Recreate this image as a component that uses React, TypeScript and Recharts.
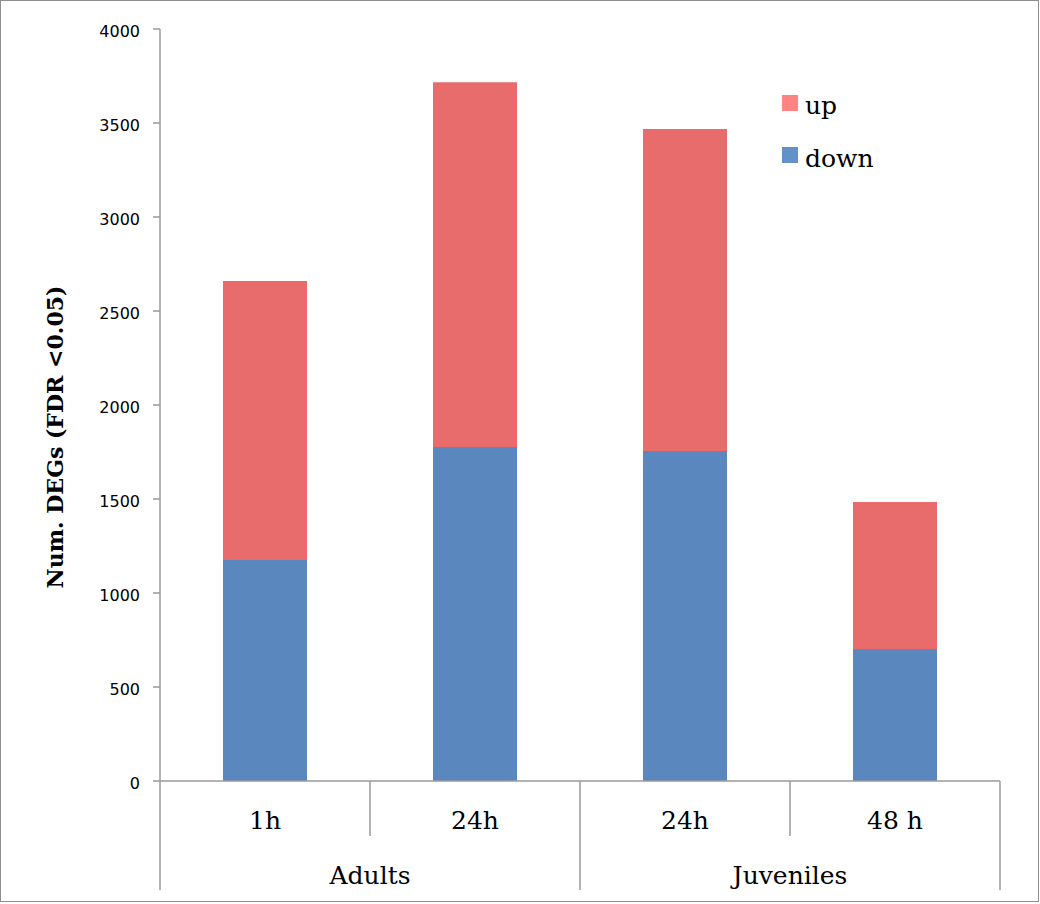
import React from 'react'
import { BarChart, Bar, XAxis, YAxis, Legend } from 'recharts'

const times = ['1h', '24h', '24h', '48 h']
const groups = ['Adults', 'Adults', 'Juveniles', 'Juveniles']
const down = [1175, 1777, 1755, 702]
const up = [1485, 1940, 1713, 782]
const yTicks = [0, 500, 1000, 1500, 2000, 2500, 3000, 3500, 4000]

const data = times.map((t, i) => ({ time: t, group: groups[i], down: down[i], up: up[i] }))

const AXIS = '#9a9a9a'
const SERIF = '"DejaVu Serif", serif'

function TimeTick(props: any) {
  const { x, y, payload, index, width, visibleTicksCount } = props
  const band = width && visibleTicksCount ? width / visibleTicksCount : 210
  const inner = index > 0 && groups[index - 1] === groups[index]
  return (
    <g>
      {inner && <line x1={x - band / 2} x2={x - band / 2} y1={y} y2={y + 55} stroke={AXIS} strokeWidth={1.5} />}
      <text x={x} y={y + 48} textAnchor="middle" fontFamily={SERIF} fontSize={25} fill="#000">
        {payload.value}
      </text>
    </g>
  )
}

function GroupTick(props: any) {
  const { x, y, index, width, visibleTicksCount } = props
  const band = width && visibleTicksCount ? width / visibleTicksCount : 210
  const starts = index === 0 || groups[index - 1] !== groups[index]
  const last = index === groups.length - 1
  if (!starts && !last) return <g />
  let span = 1
  while (starts && groups[index + span] === groups[index]) span++
  return (
    <g>
      {starts && (
        <line x1={x - band / 2} x2={x - band / 2} y1={y - 55} y2={y + 54} stroke={AXIS} strokeWidth={1.5} />
      )}
      {last && <line x1={x + band / 2} x2={x + band / 2} y1={y - 55} y2={y + 54} stroke={AXIS} strokeWidth={1.5} />}
      {starts && (
        <text x={x - band / 2 + (band * span) / 2} y={y + 48} textAnchor="middle" fontFamily={SERIF} fontSize={25} fill="#000">
          {groups[index]}
        </text>
      )}
    </g>
  )
}

function ValueTick(props: any) {
  const { x, y, payload } = props
  return (
    <text x={x} y={y} dy={8} textAnchor="end" fontFamily='"DejaVu Sans", sans-serif' fontSize={16} fill="#000">
      {payload.value}
    </text>
  )
}

function LegendBox() {
  return (
    <svg width={130} height={95}>
      <rect x={4} y={7} width={16} height={16} fill="#ff8585" />
      <text x={27} y={26} fontFamily={SERIF} fontSize={25} fill="#000">up</text>
      <rect x={4} y={59} width={16} height={16} fill="#6591c9" />
      <text x={27} y={79} fontFamily={SERIF} fontSize={25} fill="#000">down</text>
    </svg>
  )
}

function YTitle(props: any) {
  const vb = props.viewBox || { x: 0, y: 29, width: 160, height: 752 }
  const cx = 55
  const cy = vb.y + vb.height / 2 + 32
  return (
    <text
      x={cx}
      y={cy}
      transform={`rotate(-90, ${cx}, ${cy})`}
      textAnchor="middle"
      dominantBaseline="central"
      fontFamily={SERIF}
      fontWeight="bold"
      fontSize={22}
      fill="#000"
    >
      Num. DEGs (FDR &lt;0.05)
    </text>
  )
}

export default function App() {
  return (
    <div style={{ position: 'absolute', left: 0, top: 0, width: 1040, height: 904, background: '#fff' }}>
      <BarChart width={1040} height={904} data={data} margin={{ top: 29, right: 40, bottom: 0, left: 0 }} barCategoryGap="30%">
        <XAxis
          xAxisId="a"
          dataKey="time"
          height={55}
          interval={0}
          tickLine={false}
          tickSize={0}
          tickMargin={0}
          axisLine={{ stroke: AXIS, strokeWidth: 1.5 }}
          tick={<TimeTick />}
        />
        <XAxis
          xAxisId="b"
          dataKey="group"
          height={68}
          interval={0}
          tickLine={false}
          tickSize={0}
          tickMargin={0}
          axisLine={false}
          tick={<GroupTick />}
        />
        <YAxis
          width={160}
          domain={[0, 4000]}
          ticks={yTicks}
          interval={0}
          tickSize={7}
          tickMargin={13}
          axisLine={{ stroke: AXIS, strokeWidth: 1.5 }}
          tickLine={{ stroke: AXIS, strokeWidth: 1.5 }}
          tick={<ValueTick />}
          label={<YTitle />}
        />
        <Legend
          layout="vertical"
          align="center"
          verticalAlign="middle"
          content={<LegendBox />}
          wrapperStyle={{ left: 778, top: 88, width: 130 }}
        />
        <Bar xAxisId="a" dataKey="down" name="down" stackId="s" fill="#5a87bd" isAnimationActive={false} />
        <Bar xAxisId="a" dataKey="up" name="up" stackId="s" fill="#e86c6c" isAnimationActive={false} />
      </BarChart>
      <div
        style={{
          position: 'absolute',
          left: 0,
          top: 0,
          width: 1037,
          height: 900,
          border: '1.5px solid #8e8e8e',
          pointerEvents: 'none',
        }}
      />
    </div>
  )
}
